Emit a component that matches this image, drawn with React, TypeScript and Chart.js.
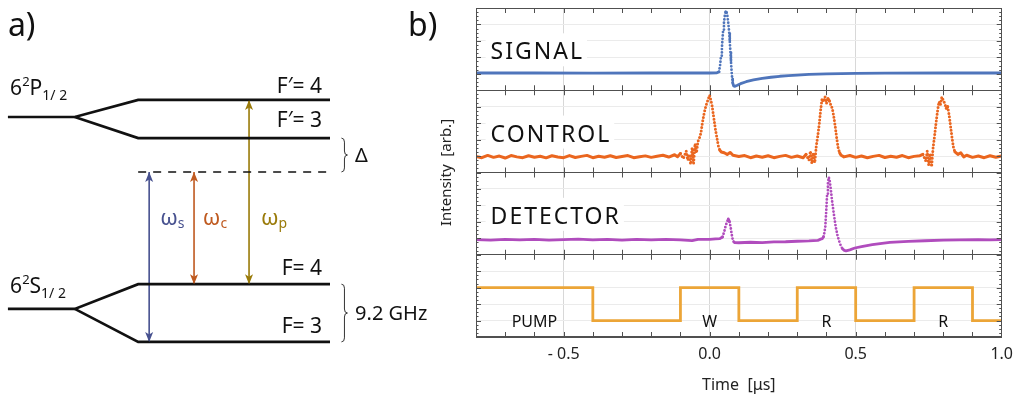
import { useEffect, useRef } from 'react';
import { Chart, registerables } from 'chart.js';

Chart.register(...registerables);

const FONT = '"Noto Sans", "Open Sans", sans-serif';

// ================= Panel a) : level diagram (arbitrary units) =================
const diagramX = [1.8, 17.0, 31.4, 75.0]; // line start, split, fan end, level end
const pFine = 70.6;
const pHyper = [74.9, 65.3]; // F'=4, F'=3
const virtualLevel = 56.8;
const sFine = 22.4;
const sHyper = [28.6, 14.1]; // F=4, F=3

const arrowX = [33.9, 44.1, 56.6];
const arrowFrom = [56.8, 56.8, 74.9];
const arrowTo = [14.1, 28.6, 28.6];
const arrowColors = ['#47518f', '#bf5a20', '#9a7b0a'];
const arrowSubs = ['s', 'c', 'p'];
const omegaLabelX = [36.4, 46.1, 59.3];
const omegaLabelE = 43.5;

const levelLabels = ['F\u2032= 4', 'F\u2032= 3', 'F= 4', 'F= 3'];
const levelLabelE = [76.6, 68.0, 30.9, 16.3];
const levelLabelX = 73.2;
const termLetters = ['P', 'S'];
const termLabelE = [76.1, 26.4];
const termLabelX = 2.3;
const braceX = 77.6;
const braceRanges = [[65.3, 56.8], [28.6, 14.1]];
const braceLabels = ['\u0394', '9.2 GHz'];
const braceLabelX = 80.7;

// ================= Panel b) : time traces =================
const xTickValues = [-0.5, 0, 0.5, 1.0];
const xTickLabels = ['- 0.5', '0.0', '0.5', '1.0'];
const yGridLevels = [0, 1, 2, 3, 4, 5, 6, 7, 8, 9, 10, 11, 12, 13, 14, 15, 16, 17, 18, 19, 20];
const panelNames = ['SIGNAL', 'CONTROL', 'DETECTOR'];
const panelOffsets = [15, 10, 5, 0];
const panelNameT = -0.75;
const panelNameLevel = 1.88;

const signalTrace = [
  [-0.8, 1.05], [-0.6, 1.05], [-0.4, 1.04], [-0.2, 1.05], [0.0, 1.05], [0.025, 1.06], [0.032, 1.12],
  [0.036, 1.55], [0.039, 2.1], [0.042, 2.6], [0.044, 3.1], [0.046, 3.6], [0.049, 4.1], [0.052, 4.55],
  [0.055, 4.77], [0.058, 4.72], [0.061, 4.5], [0.064, 4.05], [0.067, 3.5], [0.069, 2.95], [0.071, 2.35],
  [0.073, 1.75], [0.075, 1.2], [0.077, 0.75], [0.079, 0.45], [0.082, 0.27], [0.087, 0.24], [0.095, 0.3],
  [0.106, 0.4], [0.125, 0.52], [0.15, 0.63], [0.18, 0.72], [0.21, 0.79], [0.24, 0.85], [0.27, 0.89],
  [0.3, 0.92], [0.34, 0.96], [0.4, 1.0], [0.5, 1.03], [0.6, 1.04], [0.8, 1.05], [1.0, 1.05],
];

const controlTrace = [
  [-0.80, 0.98], [-0.78, 0.9], [-0.76, 1.04], [-0.74, 0.92], [-0.72, 1.0], [-0.70, 0.88], [-0.68, 1.03],
  [-0.66, 0.95], [-0.64, 0.9], [-0.62, 1.02], [-0.60, 0.93], [-0.58, 0.99], [-0.56, 0.89], [-0.54, 1.02],
  [-0.52, 0.94], [-0.50, 0.9], [-0.48, 1.03], [-0.46, 0.91], [-0.44, 0.98], [-0.42, 1.04], [-0.40, 0.9],
  [-0.38, 0.99], [-0.36, 0.93], [-0.34, 1.02], [-0.32, 0.91], [-0.30, 0.97], [-0.28, 1.03], [-0.26, 0.9],
  [-0.24, 0.96], [-0.22, 1.01], [-0.20, 0.92], [-0.18, 0.99], [-0.16, 1.05], [-0.14, 0.94], [-0.12, 1.08],
  [-0.11, 0.96], [-0.10, 1.15], [-0.09, 0.85], [-0.08, 1.3], [-0.075, 0.75], [-0.07, 1.1], [-0.065, 0.5],
  [-0.06, 1.5], [-0.055, 0.55], [-0.05, 1.75], [-0.045, 1.2], [-0.04, 1.9], [-0.035, 2.1], [-0.03, 2.4],
  [-0.025, 3.0], [-0.02, 3.5], [-0.015, 3.9], [-0.01, 4.2], [-0.005, 4.45], [0.0, 4.7], [0.004, 4.4],
  [0.008, 4.1], [0.012, 3.6], [0.016, 3.1], [0.02, 2.6], [0.025, 2.1], [0.03, 1.6], [0.035, 1.35],
  [0.04, 1.25], [0.05, 1.2], [0.06, 1.1], [0.07, 1.22], [0.08, 1.05], [0.10, 0.97], [0.12, 1.03],
  [0.14, 0.9], [0.16, 1.0], [0.18, 0.93], [0.20, 1.02], [0.22, 0.9], [0.24, 0.98], [0.26, 1.04],
  [0.28, 0.92], [0.30, 1.0], [0.32, 0.9], [0.33, 1.1], [0.34, 0.75], [0.345, 1.3], [0.35, 0.55],
  [0.355, 1.2], [0.36, 0.6], [0.365, 1.6], [0.37, 2.2], [0.375, 2.9], [0.38, 3.8], [0.385, 4.5],
  [0.39, 4.3], [0.395, 4.6], [0.40, 4.2], [0.405, 4.5], [0.41, 4.35], [0.415, 4.1], [0.42, 3.9],
  [0.425, 3.4], [0.43, 2.8], [0.435, 2.1], [0.44, 1.5], [0.445, 1.2], [0.45, 1.05], [0.46, 0.95],
  [0.48, 1.03], [0.50, 0.92], [0.52, 1.0], [0.54, 0.9], [0.56, 0.98], [0.58, 1.04], [0.60, 0.91],
  [0.62, 0.99], [0.64, 0.93], [0.66, 1.03], [0.68, 0.9], [0.70, 0.98], [0.72, 1.02], [0.73, 1.1],
  [0.74, 0.7], [0.745, 1.3], [0.75, 0.45], [0.755, 1.15], [0.76, 0.35], [0.765, 1.5], [0.77, 2.2],
  [0.775, 3.0], [0.78, 3.7], [0.785, 4.3], [0.79, 4.1], [0.795, 4.6], [0.80, 4.4], [0.805, 4.2],
  [0.81, 3.9], [0.815, 4.0], [0.82, 3.5], [0.825, 2.8], [0.83, 2.1], [0.835, 1.5], [0.84, 1.25],
  [0.85, 1.1], [0.86, 1.2], [0.87, 0.95], [0.88, 1.05], [0.90, 0.92], [0.92, 1.0], [0.94, 0.9],
  [0.96, 1.02], [0.98, 0.93], [1.0, 1.0],
];

const detectorTrace = [
  [-0.80, 0.92], [-0.75, 0.89], [-0.70, 0.94], [-0.65, 0.9], [-0.60, 0.93], [-0.55, 0.89], [-0.50, 0.92],
  [-0.45, 0.95], [-0.40, 0.9], [-0.35, 0.93], [-0.30, 0.89], [-0.25, 0.94], [-0.20, 0.91], [-0.15, 0.93],
  [-0.10, 0.9], [-0.06, 0.86], [-0.04, 0.94], [0.0, 0.93], [0.02, 0.96], [0.035, 0.98], [0.044, 1.08],
  [0.05, 1.4], [0.054, 1.7], [0.059, 1.98], [0.064, 2.18], [0.068, 2.0], [0.072, 1.66], [0.075, 1.3],
  [0.078, 1.0], [0.082, 0.8], [0.086, 0.74], [0.1, 0.73], [0.14, 0.76], [0.18, 0.74], [0.22, 0.78],
  [0.26, 0.79], [0.3, 0.82], [0.34, 0.84], [0.37, 0.87], [0.38, 0.95], [0.386, 0.98], [0.39, 1.1],
  [0.393, 1.35], [0.396, 1.7], [0.399, 2.6], [0.402, 3.6], [0.405, 4.35], [0.408, 4.71], [0.411, 4.5],
  [0.414, 4.1], [0.419, 3.3], [0.425, 2.5], [0.432, 1.66], [0.438, 1.15], [0.443, 0.85], [0.449, 0.55],
  [0.455, 0.35], [0.461, 0.27], [0.467, 0.24], [0.48, 0.3], [0.497, 0.41], [0.52, 0.5], [0.557, 0.61],
  [0.617, 0.75], [0.68, 0.81], [0.737, 0.85], [0.8, 0.89], [0.857, 0.91], [0.92, 0.92], [0.96, 0.9],
  [1.0, 0.92],
];

const pumpTrace = [
  [-0.8, 3], [-0.4, 1], [-0.1, 3], [0.1, 1], [0.3, 3], [0.5, 1], [0.7, 3], [0.9, 1], [1.0, 1],
];
const pumpLabels = ['PUMP', 'W', 'R', 'R'];
const pumpLabelT = [-0.6, 0.0, 0.4, 0.8];
const pumpLabelLevel = 0.6;

const traceColors = ['#4f75bb', '#ea661f', '#b04cbd', '#eca537'];
const traceWidths = [2.8, 3.0, 2.8];

// ---------------------------------------------------------------------------
const font = (size: number) => `${size}px ${FONT}`;

function drawRuns(ctx: CanvasRenderingContext2D, runs: [string, number, number][], x: number, y: number) {
  let cx = x;
  for (const [t, s, dy] of runs) {
    ctx.font = font(s);
    ctx.fillText(t, cx, y + dy);
    cx += ctx.measureText(t).width;
  }
}

function arrowHead(ctx: CanvasRenderingContext2D, x: number, y: number, dir: number, color: string) {
  // dir = -1 : pointing up, +1 : pointing down
  ctx.fillStyle = color;
  ctx.beginPath();
  ctx.moveTo(x, y);
  ctx.lineTo(x - 4, y - dir * 10);
  ctx.lineTo(x, y - dir * 7.5);
  ctx.lineTo(x + 4, y - dir * 10);
  ctx.closePath();
  ctx.fill();
}

function brace(ctx: CanvasRenderingContext2D, x0: number, y1: number, y2: number) {
  const w = 6;
  const ym = (y1 + y2) / 2;
  const r = 4;
  const xm = x0 + w / 2;
  ctx.beginPath();
  ctx.moveTo(x0, y1);
  ctx.quadraticCurveTo(xm, y1, xm, y1 + r);
  ctx.lineTo(xm, ym - r);
  ctx.quadraticCurveTo(xm, ym, x0 + w, ym);
  ctx.quadraticCurveTo(xm, ym, xm, ym + r);
  ctx.lineTo(xm, y2 - r);
  ctx.quadraticCurveTo(xm, y2, x0, y2);
  ctx.stroke();
}

const diagramPlugin = {
  id: 'diagramDeco',
  afterDraw(chart: any) {
    const { ctx, scales } = chart;
    const X = (v: number) => scales.x.getPixelForValue(v);
    const Y = (v: number) => scales.y.getPixelForValue(v);
    ctx.save();
    arrowX.forEach((ax, i) => {
      arrowHead(ctx, X(ax), Y(arrowFrom[i]), -1, arrowColors[i]);
      arrowHead(ctx, X(ax), Y(arrowTo[i]), 1, arrowColors[i]);
    });
    ctx.strokeStyle = '#333';
    ctx.lineWidth = 1;
    braceRanges.forEach((r) => brace(ctx, X(braceX), Y(r[0]), Y(r[1])));

    ctx.fillStyle = '#111';
    ctx.textBaseline = 'alphabetic';
    ctx.textAlign = 'left';
    termLetters.forEach((l, i) => {
      drawRuns(ctx, [['6', 21, 0], ['2', 13, -9], [l, 21, 0], ['1/ 2', 14, 5]], X(termLabelX), Y(termLabelE[i]));
    });
    ctx.font = font(21);
    ctx.textAlign = 'right';
    levelLabels.forEach((t, i) => ctx.fillText(t, X(levelLabelX), Y(levelLabelE[i])));
    ctx.textAlign = 'left';
    ctx.textBaseline = 'middle';
    ctx.font = font(20);
    braceRanges.forEach((r, i) => ctx.fillText(braceLabels[i], X(braceLabelX), (Y(r[0]) + Y(r[1])) / 2 + 1));
    ctx.textBaseline = 'alphabetic';
    arrowSubs.forEach((s, i) => {
      ctx.fillStyle = arrowColors[i];
      drawRuns(ctx, [['\u03c9', 22, 0], [s, 14, 3]], X(omegaLabelX[i]), Y(omegaLabelE));
    });
    ctx.fillStyle = '#111';
    ctx.font = font(32);
    ctx.fillText('a)', X(1.8), Y(91));
    ctx.restore();
  },
};

const steepDash = (c: any) => {
  const dx = Math.abs(c.p1.x - c.p0.x);
  const dy = Math.abs(c.p1.y - c.p0.y);
  return dy > 3 && dy > 1.5 * dx ? [0, 3.4] : undefined;
};

const panelPlugin = {
  id: 'panelDeco',
  beforeDatasetsDraw(chart: any) {
    const { ctx, scales } = chart;
    ctx.save();
    ctx.font = font(23);
    (ctx as any).letterSpacing = '2px';
    ctx.textBaseline = 'alphabetic';
    panelNames.forEach((name, i) => {
      const px = scales.x.getPixelForValue(panelNameT);
      const py = scales.y.getPixelForValue(panelOffsets[i] + panelNameLevel);
      const w = ctx.measureText(name).width;
      ctx.fillStyle = '#fff';
      ctx.fillRect(px - 5, py - 26, w + 8, 33);
      ctx.fillStyle = '#111';
      ctx.fillText(name, px, py);
    });
    (ctx as any).letterSpacing = '0px';
    ctx.restore();
  },
  afterDraw(chart: any) {
    const { ctx, scales, chartArea: ca } = chart;
    const x = scales.x;
    const y = scales.y;
    ctx.save();
    ctx.strokeStyle = '#505050';
    ctx.lineWidth = 1;
    ctx.strokeRect(Math.round(ca.left) + 0.5, Math.round(ca.top) + 0.5, Math.round(ca.width) - 1, Math.round(ca.height) - 1);
    ctx.beginPath();
    for (let k = -7; k <= 9; k++) {
      const px = Math.round(x.getPixelForValue(k / 10)) + 0.5;
      [0, 5, 10, 15, 20].forEach((b) => {
        const py = y.getPixelForValue(b);
        if (b < 20) { ctx.moveTo(px, py); ctx.lineTo(px, py - 5); }
        if (b > 0) { ctx.moveTo(px, py); ctx.lineTo(px, py + 5); }
      });
    }
    for (let v = 0; v <= 20; v += 0.25) {
      const py = Math.round(y.getPixelForValue(v)) + 0.5;
      const len = v % 1 === 0 ? 5 : 2.5;
      ctx.moveTo(ca.left, py); ctx.lineTo(ca.left + len, py);
      ctx.moveTo(ca.right, py); ctx.lineTo(ca.right - len, py);
    }
    ctx.stroke();

    ctx.fillStyle = '#111';
    ctx.font = font(16);
    ctx.textAlign = 'center';
    ctx.textBaseline = 'alphabetic';
    pumpLabels.forEach((l, i) => ctx.fillText(l, x.getPixelForValue(pumpLabelT[i]), y.getPixelForValue(pumpLabelLevel)));

    ctx.save();
    ctx.translate(ca.left - 29, (ca.top + ca.bottom) / 2);
    ctx.rotate(-Math.PI / 2);
    ctx.font = font(15);
    ctx.fillStyle = '#222';
    ctx.textBaseline = 'middle';
    ctx.fillText('Intensity  [arb.]', 0, 0);
    ctx.restore();

    ctx.textAlign = 'left';
    ctx.font = font(32);
    ctx.fillStyle = '#111';
    ctx.fillText('b)', 8, 36);
    ctx.restore();
  },
};

export default function App() {
  const aRef = useRef<HTMLCanvasElement>(null);
  const bRef = useRef<HTMLCanvasElement>(null);

  useEffect(() => {
    const pt = (x: number, y: number) => ({ x, y });
    const levelStyle = { borderColor: '#111', borderWidth: 2.6, pointRadius: 0, fill: false, tension: 0, borderJoinStyle: 'miter' as const };
    const diagramDatasets: any[] = [
      { data: [pt(diagramX[0], pFine), pt(diagramX[1], pFine), pt(diagramX[2], pHyper[0]), pt(diagramX[3], pHyper[0])], ...levelStyle },
      { data: [pt(diagramX[1], pFine), pt(diagramX[2], pHyper[1]), pt(diagramX[3], pHyper[1])], ...levelStyle },
      { data: [pt(diagramX[0], sFine), pt(diagramX[1], sFine), pt(diagramX[2], sHyper[0]), pt(diagramX[3], sHyper[0])], ...levelStyle },
      { data: [pt(diagramX[1], sFine), pt(diagramX[2], sHyper[1]), pt(diagramX[3], sHyper[1])], ...levelStyle },
      { data: [pt(diagramX[2], virtualLevel), pt(diagramX[3], virtualLevel)], borderColor: '#111', borderWidth: 1.6, borderDash: [8, 7], pointRadius: 0 },
      ...arrowX.map((ax, i) => ({ data: [pt(ax, arrowFrom[i]), pt(ax, arrowTo[i])], borderColor: arrowColors[i], borderWidth: 1.6, pointRadius: 0 })),
    ];

    const chartA = new Chart(aRef.current!, {
      type: 'line',
      data: { datasets: diagramDatasets },
      options: {
        animation: false,
        responsive: false,
        events: [],
        layout: { padding: 0 },
        plugins: { legend: { display: false }, tooltip: { enabled: false } },
        scales: {
          x: { type: 'linear', min: 0, max: 100, display: false },
          y: { type: 'linear', min: 0, max: 100, display: false },
        },
      },
      plugins: [diagramPlugin],
    } as any);

    const traces = [signalTrace, controlTrace, detectorTrace];
    const traceDatasets: any[] = traces.map((tr, i) => ({
      data: tr.map(([t, v]) => pt(t, v + panelOffsets[i])),
      borderColor: traceColors[i],
      borderWidth: traceWidths[i],
      pointRadius: 0,
      tension: 0,
      borderCapStyle: 'round',
      borderJoinStyle: 'round',
      segment: { borderDash: steepDash },
    }));
    traceDatasets.push({
      data: pumpTrace.map(([t, v]) => pt(t, v + panelOffsets[3])),
      borderColor: traceColors[3],
      borderWidth: 2.8,
      pointRadius: 0,
      stepped: 'before',
    });

    const chartB = new Chart(bRef.current!, {
      type: 'line',
      data: { datasets: traceDatasets },
      options: {
        animation: false,
        responsive: false,
        events: [],
        layout: { padding: { left: 76, right: 14, top: 8, bottom: 0 } },
        plugins: { legend: { display: false }, tooltip: { enabled: false } },
        scales: {
          x: {
            type: 'linear',
            min: -0.8,
            max: 1.0,
            afterBuildTicks: (s: any) => { s.ticks = xTickValues.map((v) => ({ value: v })); },
            ticks: {
              callback: (_v: any, i: number) => xTickLabels[i],
              autoSkip: false,
              maxRotation: 0,
              font: { family: FONT, size: 16 },
              color: '#222',
              padding: 8,
            },
            grid: { color: '#d8d8d8', drawTicks: false },
            border: { color: '#505050' },
            title: { display: true, text: 'Time  [\u03bcs]', font: { family: FONT, size: 16 }, color: '#222', padding: { top: 0, bottom: 3 } },
            afterFit: (s: any) => { s.height = 61; },
          },
          y: {
            type: 'linear',
            min: 0,
            max: 20,
            afterBuildTicks: (s: any) => { s.ticks = yGridLevels.map((v) => ({ value: v })); },
            ticks: { display: false },
            grid: {
              color: (c: any) => (c.tick && c.tick.value % 5 === 0 ? '#505050' : '#ebebeb'),
              drawTicks: false,
            },
            border: { color: '#505050' },
            afterFit: (s: any) => { s.width = 0; },
          },
        },
      },
      plugins: [panelPlugin],
    } as any);

    return () => {
      chartA.destroy();
      chartB.destroy();
    };
  }, []);

  return (
    <div style={{ position: 'fixed', left: 0, top: 0, width: 1021, height: 398, background: '#fff' }}>
      <canvas ref={aRef} width={440} height={398} style={{ position: 'absolute', left: 0, top: 0 }} />
      <canvas ref={bRef} width={621} height={398} style={{ position: 'absolute', left: 400, top: 0 }} />
    </div>
  );
}
